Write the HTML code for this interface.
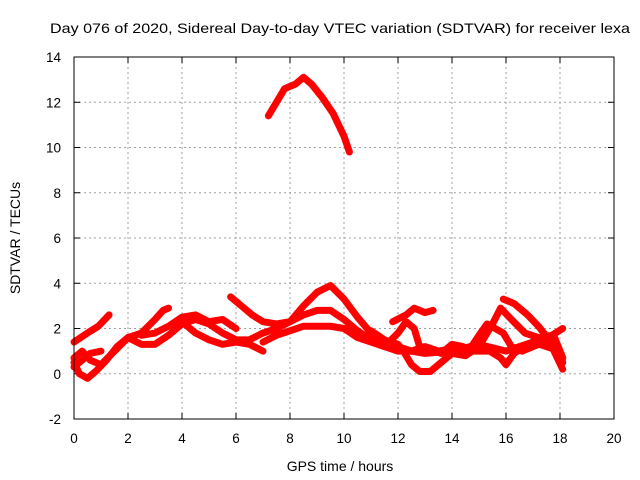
<!DOCTYPE html>
<html><head><meta charset="utf-8"><style>
body{margin:0;background:#fff}
svg{display:block;font-family:"Liberation Sans",sans-serif}
</style></head><body>
<svg id="chart" width="640" height="480">
<text x="340" y="33" text-anchor="middle" font-size="14" textLength="580" lengthAdjust="spacingAndGlyphs">Day 076 of 2020, Sidereal Day-to-day VTEC variation (SDTVAR) for receiver lexa</text>
<g id="grid"></g>
<g id="ticks"></g>
<g id="series"></g>
<rect x="74" y="57" width="540" height="362" fill="none" stroke="#000" stroke-width="1"/>
<text x="340" y="471" text-anchor="middle" font-size="14">GPS time / hours</text>
<text transform="translate(20,238) rotate(-90)" text-anchor="middle" font-size="14">SDTVAR / TECUs</text>
</svg>
<script>
const xTicks=[0,2,4,6,8,10,12,14,16,18,20];
const yTicks=[-2,0,2,4,6,8,10,12,14];
const s1=[[7.2,11.4],[7.5,12],[7.8,12.6],[8.2,12.8],[8.5,13.1],[8.8,12.8],[9.2,12.2],[9.6,11.5],[10,10.5],[10.2,9.8]];
const s2=[[0,1.4],[0.5,1.8],[0.9,2.1],[1.3,2.6]];
const s3=[[0,0.5],[0.2,0],[0.5,-0.2],[0.8,0.1],[1.2,0.6],[1.6,1.2],[2,1.6],[2.5,1.8],[3,2.4],[3.3,2.8],[3.5,2.9]];
const s4=[[0,0.7],[0.3,1.0],[0.6,0.6],[1,0.4],[1.5,1.0],[2,1.6],[2.5,1.3],[3,1.3],[3.5,1.7],[4,2.2],[4.5,2.4],[5,2.2],[5.5,1.8],[6,1.5],[6.5,1.5],[7,1.8],[7.5,2.0],[8,2.3],[8.5,3.0],[9,3.6],[9.5,3.9],[10,3.3],[10.5,2.5],[11,1.8],[11.5,1.2],[12,1.0],[12.5,1.0],[13,0.9],[14,1.0],[15,1.3],[16,1.0],[17,1.4],[18,1.0],[18.1,0.7]];
const s5=[[2.5,1.7],[3,1.8],[3.5,2.1],[4,2.5],[4.5,2.6],[5,2.3],[5.5,2.4],[6,2.0]];
const s6=[[4,2.3],[4.5,1.8],[5,1.5],[5.5,1.3],[6,1.4],[6.5,1.3],[7,1.0]];
const s7=[[5.8,3.4],[6.2,3.0],[6.6,2.6],[7,2.3],[7.5,2.2],[8,2.3],[8.5,2.6],[9,2.8],[9.5,2.8],[10,2.4],[10.5,1.9],[11,1.5],[11.5,1.2],[12,1.2],[12.5,1.0],[13,1.2],[13.5,1.0],[14,1.1],[14.5,0.8],[15,1.2],[15.5,2.2],[15.8,2.9],[16.2,2.4],[16.7,1.8],[17.2,1.6],[17.7,1.7],[18.1,2.0]];
const s8=[[7,1.4],[7.5,1.7],[8,1.9],[8.5,2.1],[9,2.1],[9.5,2.1],[10,2.0],[10.5,1.6],[11,1.4],[11.5,1.2],[12,1.8],[12.3,2.3],[12.6,2.0],[12.8,1.2],[13.2,1.1],[13.6,0.9],[14,1.3],[14.4,1.2],[14.8,1.0],[15.4,1.0],[15.8,0.7],[16,0.4],[16.3,0.9],[16.8,1.3],[17.3,1.5],[17.7,1.2],[18.1,0.2]];
const s9=[[11,1.9],[11.5,1.5],[12,1.3],[12.2,1.0],[12.5,0.4],[12.8,0.1],[13.2,0.1],[13.6,0.5],[14,0.9],[14.5,0.8],[15,1.7],[15.3,2.2],[15.6,2.0],[15.9,1.8],[16.2,1.2],[16.6,1.0],[17.2,1.3],[17.8,1.6],[18.1,0.7]];
const s10=[[11.8,2.3],[12.3,2.6],[12.6,2.9],[13,2.7],[13.3,2.8]];
const s11=[[15.9,3.3],[16.3,3.1],[16.8,2.6],[17.2,2.1],[17.6,1.5],[18,0.9],[18.1,0.5]];
const s12=[[0,0.3],[0.3,0.6],[0.6,0.9],[1,1.0]];
const seriesList=[s1,s2,s3,s4,s5,s6,s7,s8,s9,s10,s11,s12];
const X0=74,X1=614,Y0=419,Y1=57,xMin=0,xMax=20,yMin=-2,yMax=14;
const px=v=>X0+(v-xMin)/(xMax-xMin)*(X1-X0);
const py=v=>Y0-(v-yMin)/(yMax-yMin)*(Y0-Y1);
const NS="http://www.w3.org/2000/svg";
const grid=document.getElementById('grid'),ticks=document.getElementById('ticks'),ser=document.getElementById('series');
function mk(t,a,p){const e=document.createElementNS(NS,t);for(const k in a)e.setAttribute(k,a[k]);p.appendChild(e);return e;}
xTicks.forEach(v=>{const x=px(v);
 if(v>xMin&&v<xMax){const g=mk('line',{x1:x,x2:x,y1:Y1,y2:Y0,stroke:'#a0a0a0','stroke-dasharray':'2,3'},grid);
 
 }
 const t=mk('line',{x1:x,x2:x,y1:Y0,y2:Y0-6,stroke:'#000'},ticks);
 
 
 const t2=mk('line',{x1:x,x2:x,y1:Y1,y2:Y1+6,stroke:'#000'},ticks);
 
 
 const l=mk('text',{x:x,y:443,'text-anchor':'middle','font-size':'13.5'},ticks);l.textContent=v;
 
 });
yTicks.forEach(v=>{const y=py(v);
 if(v>yMin&&v<yMax){const g=mk('line',{x1:X0,x2:X1,y1:y,y2:y,stroke:'#a0a0a0','stroke-dasharray':'2,3'},grid);
 
 }
 const t=mk('line',{x1:X0,x2:X0+6,y1:y,y2:y,stroke:'#000'},ticks);
 
 
 const t2=mk('line',{x1:X1,x2:X1-6,y1:y,y2:y,stroke:'#000'},ticks);
 
 
 const l=mk('text',{x:61,y:y+5,'text-anchor':'end','font-size':'13.5'},ticks);l.textContent=v;
 
 });
seriesList.forEach((s,i)=>{const p=mk('polyline',{points:s.map(d=>px(d[0])+','+py(d[1])).join(' '),fill:'none',stroke:'#ff0000','stroke-width':'7','stroke-linejoin':'round','stroke-linecap':'round'},ser);
 
 });
</script>
</body></html>
